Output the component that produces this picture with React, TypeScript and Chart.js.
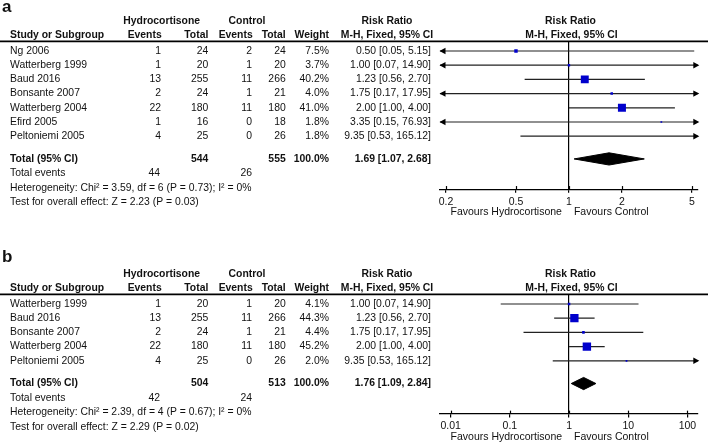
import React, { useEffect, useRef } from 'react';
import { Chart, registerables } from 'chart.js';

Chart.register(...registerables);

// ---------- Panel a data ----------
const studiesA = ['Ng 2006', 'Watterberg 1999', 'Baud 2016', 'Bonsante 2007', 'Watterberg 2004', 'Efird 2005', 'Peltoniemi 2005'];
const hcEventsA = [1, 1, 13, 2, 22, 1, 4];
const hcTotalA = [24, 20, 255, 24, 180, 16, 25];
const ctEventsA = [2, 1, 11, 1, 11, 0, 0];
const ctTotalA = [24, 20, 266, 21, 180, 18, 26];
const weightA = [7.5, 3.7, 40.2, 4.0, 41.0, 1.8, 1.8];
const rrA = [0.5, 1.0, 1.23, 1.75, 2.0, 3.35, 9.35];
const loA = [0.05, 0.07, 0.56, 0.17, 1.0, 0.15, 0.53];
const hiA = [5.15, 14.9, 2.7, 17.95, 4.0, 76.93, 165.12];
const totalA = { hcTotal: 544, ctTotal: 555, hcEvents: 44, ctEvents: 26, rr: 1.69, lo: 1.07, hi: 2.68 };
const hetA = 'Heterogeneity: Chi² = 3.59, df = 6 (P = 0.73); I² = 0%';
const testA = 'Test for overall effect: Z = 2.23 (P = 0.03)';
const tickValsA = [0.2, 0.5, 1, 2, 5];
const tickLabelsA = ['0.2', '0.5', '1', '2', '5'];
const axisRangeA = [0.185, 5.39];

// ---------- Panel b data ----------
const studiesB = ['Watterberg 1999', 'Baud 2016', 'Bonsante 2007', 'Watterberg 2004', 'Peltoniemi 2005'];
const hcEventsB = [1, 13, 2, 22, 4];
const hcTotalB = [20, 255, 24, 180, 25];
const ctEventsB = [1, 11, 1, 11, 0];
const ctTotalB = [20, 266, 21, 180, 26];
const weightB = [4.1, 44.3, 4.4, 45.2, 2.0];
const rrB = [1.0, 1.23, 1.75, 2.0, 9.35];
const loB = [0.07, 0.56, 0.17, 1.0, 0.53];
const hiB = [14.9, 2.7, 17.95, 4.0, 165.12];
const totalB = { hcTotal: 504, ctTotal: 513, hcEvents: 42, ctEvents: 24, rr: 1.76, lo: 1.09, hi: 2.84 };
const hetB = 'Heterogeneity: Chi² = 2.39, df = 4 (P = 0.67); I² = 0%';
const testB = 'Test for overall effect: Z = 2.29 (P = 0.02)';
const tickValsB = [0.01, 0.1, 1, 10, 100];
const tickLabelsB = ['0.01', '0.1', '1', '10', '100'];
const axisRangeB = [0.0066, 149];

const FONT = "'Liberation Sans', Arial, Helvetica, sans-serif";
const TEXT = '#111';
const LINE = '#222';
const BLUE = '#0000cc';

type PanelCfg = {
  label: string;
  labelBaseline: number;
  height: number;
  topPad: number;
  studies: string[];
  hcEvents: number[];
  hcTotal: number[];
  ctEvents: number[];
  ctTotal: number[];
  weight: number[];
  rr: number[];
  lo: number[];
  hi: number[];
  total: { hcTotal: number; ctTotal: number; hcEvents: number; ctEvents: number; rr: number; lo: number; hi: number };
  het: string;
  test: string;
  tickVals: number[];
  tickLabels: string[];
  range: number[];
};

const panelA: PanelCfg = {
  label: 'a', labelBaseline: 11.7, height: 248, topPad: 42,
  studies: studiesA, hcEvents: hcEventsA, hcTotal: hcTotalA, ctEvents: ctEventsA, ctTotal: ctTotalA,
  weight: weightA, rr: rrA, lo: loA, hi: hiA, total: totalA, het: hetA, test: testA,
  tickVals: tickValsA, tickLabels: tickLabelsA, range: axisRangeA,
};
const panelB: PanelCfg = {
  label: 'b', labelBaseline: 13.7, height: 194, topPad: 47,
  studies: studiesB, hcEvents: hcEventsB, hcTotal: hcTotalB, ctEvents: ctEventsB, ctTotal: ctTotalB,
  weight: weightB, rr: rrB, lo: loB, hi: hiB, total: totalB, het: hetB, test: testB,
  tickVals: tickValsB, tickLabels: tickLabelsB, range: axisRangeB,
};

// layout constants (pixels / row units)
const ROW_PX = 14.2;
const Y_MIN = -0.634;
const BELOW_LAST = 3.75;
const PLOT_LEFT = 440;
const PLOT_RIGHT_PAD = 10.3;
const XSCALE_H = 24;
const TOTAL_OFFSET = 1.6;
const DIAMOND_HALF = 0.43;

const fmt2 = (v: number) => v.toFixed(2);
const ciText = (r: number, l: number, h: number) => `${fmt2(r)} [${fmt2(l)}, ${fmt2(h)}]`;

function makeTablePlugin(p: PanelCfg) {
  return {
    id: 'forestTable',
    afterDraw(chart: any) {
      const ctx = chart.ctx as CanvasRenderingContext2D;
      const ys = chart.scales.y;
      const xs = chart.scales.x;
      const area = chart.chartArea;
      const N = p.studies.length;
      const rowY = (i: number) => ys.getPixelForValue(i);
      ctx.save();
      ctx.fillStyle = TEXT;
      const txt = (s: string, x: number, y: number, align: CanvasTextAlign = 'left', bold = false, size = 10.4) => {
        ctx.font = `${bold ? 'bold ' : ''}${size}px ${FONT}`;
        ctx.textAlign = align;
        ctx.textBaseline = 'middle';
        ctx.fillText(s, x, y);
      };
      // panel label
      ctx.font = `bold 17px ${FONT}`;
      ctx.textAlign = 'left';
      ctx.textBaseline = 'alphabetic';
      ctx.fillText(p.label, 2, p.labelBaseline);

      // headers
      const h1 = rowY(-2.1);
      const h2 = rowY(-1.1);
      txt('Hydrocortisone', 161.7, h1, 'center', true);
      txt('Control', 247, h1, 'center', true);
      txt('Risk Ratio', 387, h1, 'center', true);
      txt('Risk Ratio', 570.5, h1, 'center', true);
      txt('Study or Subgroup', 10, h2, 'left', true);
      txt('Events', 161.7, h2, 'right', true);
      txt('Total', 208.3, h2, 'right', true);
      txt('Events', 252.7, h2, 'right', true);
      txt('Total', 285.7, h2, 'right', true);
      txt('Weight', 329, h2, 'right', true);
      txt('M-H, Fixed, 95% CI', 387, h2, 'center', true);
      txt('M-H, Fixed, 95% CI', 571.5, h2, 'center', true);

      // header rule
      ctx.strokeStyle = '#000';
      ctx.lineWidth = 1.6;
      ctx.beginPath();
      ctx.moveTo(0, area.top - 0.6);
      ctx.lineTo(chart.width, area.top - 0.6);
      ctx.stroke();

      // study rows
      for (let i = 0; i < N; i++) {
        const y = rowY(i);
        txt(p.studies[i], 10, y, 'left');
        txt(String(p.hcEvents[i]), 161, y, 'right');
        txt(String(p.hcTotal[i]), 208.3, y, 'right');
        txt(String(p.ctEvents[i]), 252, y, 'right');
        txt(String(p.ctTotal[i]), 285.7, y, 'right');
        txt(`${p.weight[i].toFixed(1)}%`, 329, y, 'right');
        txt(ciText(p.rr[i], p.lo[i], p.hi[i]), 431, y, 'right');
      }
      // totals
      const tIdx = N - 1 + TOTAL_OFFSET;
      const ty = rowY(tIdx);
      const wSum = p.weight.reduce((a, b) => a + b, 0);
      txt('Total (95% CI)', 10, ty, 'left', true);
      txt(String(p.total.hcTotal), 208.3, ty, 'right', true);
      txt(String(p.total.ctTotal), 285.7, ty, 'right', true);
      txt(`${Math.round(wSum).toFixed(1)}%`, 329, ty, 'right', true);
      txt(ciText(p.total.rr, p.total.lo, p.total.hi), 431, ty, 'right', true);
      const ey = rowY(tIdx + 1.0);
      txt('Total events', 10, ey, 'left');
      txt(String(p.total.hcEvents), 160, ey, 'right');
      txt(String(p.total.ctEvents), 252, ey, 'right');
      txt(p.het, 10, rowY(tIdx + 2.05), 'left');
      txt(p.test, 10, rowY(tIdx + 3.05), 'left');

      // upward half of tick marks
      ctx.strokeStyle = '#000';
      ctx.lineWidth = 1.2;
      for (const v of p.tickVals) {
        const px = Math.round(xs.getPixelForValue(v)) + 0.5;
        ctx.beginPath();
        ctx.moveTo(px, area.bottom - 3.4);
        ctx.lineTo(px, area.bottom);
        ctx.stroke();
      }

      // arrows for CIs beyond the axis
      const [xmin, xmax] = p.range;
      ctx.fillStyle = '#000';
      for (let i = 0; i < N; i++) {
        const y = rowY(i);
        if (p.lo[i] < xmin) {
          const tip = area.left - 0.5;
          ctx.beginPath();
          ctx.moveTo(tip, y);
          ctx.lineTo(tip + 6, y - 3.2);
          ctx.lineTo(tip + 6, y + 3.2);
          ctx.closePath();
          ctx.fill();
        }
        if (p.hi[i] > xmax) {
          const tip = area.right + 1.6;
          ctx.beginPath();
          ctx.moveTo(tip, y);
          ctx.lineTo(tip - 6, y - 3.2);
          ctx.lineTo(tip - 6, y + 3.2);
          ctx.closePath();
          ctx.fill();
        }
      }

      // favours labels
      ctx.fillStyle = TEXT;
      const one = xs.getPixelForValue(1);
      const fy = area.bottom + 23;
      txt('Favours Hydrocortisone', one - 7, fy, 'right', false, 10.5);
      txt('Favours Control', one + 5, fy, 'left', false, 10.5);
      ctx.restore();
    },
  };
}

function ForestPanel({ p }: { p: PanelCfg }) {
  const ref = useRef<HTMLCanvasElement | null>(null);
  useEffect(() => {
    const canvas = ref.current;
    if (!canvas) return;
    const N = p.studies.length;
    const yMax = N - 1 + BELOW_LAST;
    const areaH = (yMax - Y_MIN) * ROW_PX;
    const bottomPad = p.height - p.topPad - areaH - XSCALE_H;
    const tIdx = N - 1 + TOTAL_OFFSET;

    const ciSets = p.studies.map((s, i) => ({
      type: 'line' as const,
      label: s,
      data: [{ x: p.lo[i], y: i }, { x: p.hi[i], y: i }],
      borderColor: LINE,
      borderWidth: 1.2,
      pointRadius: 0,
      pointHoverRadius: 0,
      showLine: true,
      fill: false,
      tension: 0,
      order: 2,
    }));
    const side = (w: number) => 12.5 * Math.sqrt(w / 100);
    const markerSet = {
      type: 'scatter' as const,
      label: 'RR',
      data: p.rr.map((v, i) => ({ x: v, y: i })),
      pointStyle: 'rect',
      pointRadius: p.weight.map((w) => side(w) / Math.SQRT2),
      pointHoverRadius: p.weight.map((w) => side(w) / Math.SQRT2),
      backgroundColor: BLUE,
      borderColor: BLUE,
      borderWidth: 0,
      order: 0,
    };
    const diamondSet = {
      type: 'line' as const,
      label: 'Total',
      data: [
        { x: p.total.lo, y: tIdx },
        { x: p.total.rr, y: tIdx - DIAMOND_HALF },
        { x: p.total.hi, y: tIdx },
        { x: p.total.rr, y: tIdx + DIAMOND_HALF },
        { x: p.total.lo, y: tIdx },
      ],
      borderColor: '#000',
      backgroundColor: '#000',
      borderWidth: 1,
      pointRadius: 0,
      pointHoverRadius: 0,
      showLine: true,
      fill: 'shape',
      tension: 0,
      order: 1,
    };

    const chart = new Chart(canvas, {
      type: 'scatter',
      data: { datasets: [markerSet, diamondSet, ...ciSets] as any },
      options: {
        animation: false,
        responsive: false,
        devicePixelRatio: 1,
        events: [],
        layout: { padding: { left: PLOT_LEFT, right: PLOT_RIGHT_PAD, top: p.topPad, bottom: bottomPad } },
        plugins: { legend: { display: false }, tooltip: { enabled: false } },
        scales: {
          x: {
            type: 'logarithmic',
            min: p.range[0],
            max: p.range[1],
            afterBuildTicks: (scale: any) => {
              scale.ticks = p.tickVals.map((v) => ({ value: v }));
            },
            afterFit: (scale: any) => {
              scale.height = XSCALE_H;
            },
            ticks: {
              autoSkip: false,
              maxRotation: 0,
              padding: 2.5,
              color: TEXT,
              font: { family: FONT, size: 10.5 },
              callback: (v: any) => {
                const k = p.tickVals.indexOf(Number(v));
                return k >= 0 ? p.tickLabels[k] : '';
              },
            },
            grid: {
              drawOnChartArea: true,
              drawTicks: true,
              tickLength: 3.4,
              lineWidth: 1.2,
              tickColor: '#000',
              color: (c: any) => (c.tick && c.tick.value === 1 ? '#000' : 'rgba(0,0,0,0)'),
            },
            border: { display: true, color: '#000', width: 1.2 },
          },
          y: {
            type: 'linear',
            display: false,
            reverse: true,
            min: Y_MIN,
            max: yMax,
          },
        },
      } as any,
      plugins: [makeTablePlugin(p)],
    });
    return () => chart.destroy();
  }, [p]);
  return (
    <canvas
      ref={ref}
      width={708}
      height={p.height}
      style={{ display: 'block', width: 708, height: p.height }}
    />
  );
}

export default function App() {
  return (
    <div style={{ position: 'absolute', left: 0, top: 0, width: 708, height: 442, background: '#fff' }}>
      <ForestPanel p={panelA} />
      <ForestPanel p={panelB} />
    </div>
  );
}
